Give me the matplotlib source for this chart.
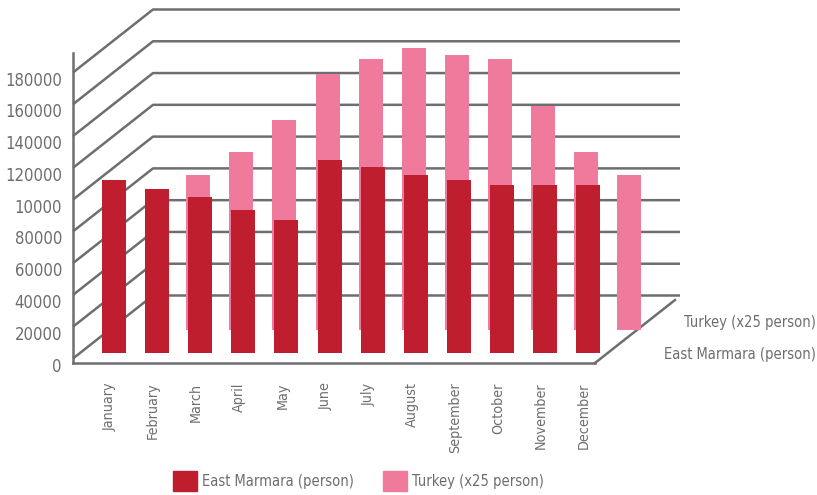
import matplotlib
matplotlib.use('Agg')
import matplotlib.pyplot as plt
from matplotlib.transforms import ScaledTranslation
from matplotlib.patches import Patch
import numpy as np

months = ['January', 'February', 'March', 'April', 'May', 'June', 'July',
          'August', 'September', 'October', 'November', 'December']
east_marmara = [108500, 103000, 98000, 90000, 83500, 121000, 117000,
                112000, 108500, 105500, 105500, 105500]
# Jan/Feb not visible in the picture, last value is the extra unlabelled bar
turkey = [np.nan, np.nan, 97500, 111500, 132000, 160500, 170500, 177000,
          173000, 170500, 140500, 111500, 97500]
ytick_values = [0, 20000, 40000, 60000, 80000, 100000, 120000, 140000, 160000, 180000]
ytick_labels = ['0', '20000', '40000', '60000', '80000', '10000', '120000',
                '140000', '160000', '180000']

RED = '#be1e2d'
PINK = '#f07a9b'
GRID = '#6d6e71'
TEXT = '#6d6e71'
plt.rcParams['font.family'] = ['DejaVu Sans']
plt.rcParams['font.stretch'] = 'condensed'

W, H = 817, 495
fig = plt.figure(figsize=(W / 100, H / 100), dpi=100)
ax = fig.add_axes([73 / W, 1 - 363 / H, (595 - 73) / W, (363 - 53) / H])

step = 43.1          # px per category
x0 = 114             # px of first category
upp = 180000 / 286   # value units per px
ax.set_xlim((73 - x0) / step, (595 - x0) / step)
ax.set_ylim(-(363 - 358.5) * upp, (358.5 - 53) * upp)


def shift(dx, dy):
    # dx right, dy up, in pixels
    return ScaledTranslation(dx / fig.dpi, dy / fig.dpi, fig.dpi_scale_trans)


# back wall / floor grid
dep_x = 80 / 522
dep_y = 63 * upp
ytr = ax.get_yaxis_transform()
for v in ytick_values:
    ax.plot([0, dep_x, (680 - 73) / 522], [v, v + dep_y, v + dep_y], color=GRID,
            lw=1.8, transform=ytr, clip_on=False, zorder=1, solid_capstyle='butt')
ybot = ax.get_ylim()[0]
ax.plot([1, 1 + dep_x], [ybot, ybot + dep_y], color=GRID, lw=1.8,
        transform=ytr, clip_on=False, zorder=1)

# bars
w = 24 / step
pos_t = np.arange(len(turkey))
mask = ~np.isnan(turkey)
ax.bar(pos_t[mask], np.array(turkey)[mask], width=w, color=PINK, zorder=2,
       transform=ax.transData + shift(-2, 29), clip_on=False)
ax.bar(np.arange(len(months)), east_marmara, width=w, color=RED, zorder=3,
       transform=ax.transData + shift(0, 6), clip_on=False)

# axes styling
for s in ['top', 'right']:
    ax.spines[s].set_visible(False)
for s in ['left', 'bottom']:
    ax.spines[s].set_color(GRID)
    ax.spines[s].set_linewidth(1.8)
ax.set_yticks(ytick_values)
ax.set_yticklabels(ytick_labels)
ax.set_xticks(np.arange(len(months)))
ax.set_xticklabels(months, rotation=90, va='top', ha='center')
ax.tick_params(axis='y', length=0, pad=8, labelsize=12, labelcolor=TEXT)
ax.tick_params(axis='x', length=0, pad=14, labelsize=10.3, labelcolor=TEXT)
for lab in ax.get_yticklabels():
    lab.set_transform(lab.get_transform() + shift(0, -6))
for lab in ax.get_xticklabels():
    lab.set_transform(lab.get_transform() + shift(-4, 0))

# series names on the right
fig.text(816 / W, 1 - 323 / H, 'Turkey (x25 person)', ha='right', va='center',
         fontsize=10.5, color=TEXT)
fig.text(816 / W, 1 - 355 / H, 'East Marmara (person)', ha='right', va='center',
         fontsize=10.5, color=TEXT)

handles = [Patch(color=RED, label='East Marmara (person)'),
           Patch(color=PINK, label='Turkey (x25 person)')]
leg = fig.legend(handles=handles, loc='center', ncol=2, frameon=False,
                 bbox_to_anchor=(358.5 / W, 1 - 481 / H), fontsize=10.5,
                 handlelength=1.65, handleheight=1.65, handletextpad=0.35,
                 columnspacing=2.0, borderpad=0)
for t in leg.get_texts():
    t.set_color(TEXT)

fig.savefig('out.png', dpi=100)
